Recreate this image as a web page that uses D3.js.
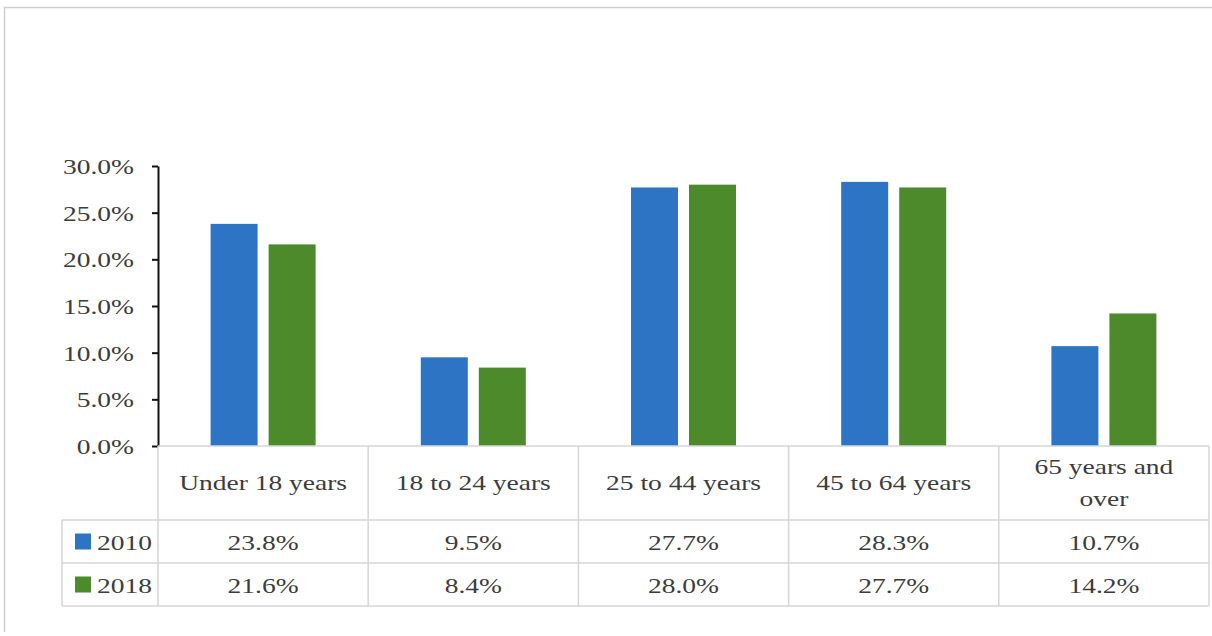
<!DOCTYPE html>
<html>
<head>
<meta charset="utf-8">
<script src="https://cdn.jsdelivr.net/npm/d3@7"></script>
<style>
  html, body { margin: 0; padding: 0; background: #fff; }
  svg { display: block; }
</style>
</head>
<body>
<svg id="chart" width="1212" height="636"></svg>
<script>
// Age groups and population shares for 2010 and 2018
const categories = ["Under 18 years", "18 to 24 years", "25 to 44 years", "45 to 64 years", "65 years and over"];
const categoryLines = [["Under 18 years"], ["18 to 24 years"], ["25 to 44 years"], ["45 to 64 years"], ["65 years and", "over"]];
const seriesNames = ["2010", "2018"];
const values2010 = [0.238, 0.095, 0.277, 0.283, 0.107];
const values2018 = [0.216, 0.084, 0.280, 0.277, 0.142];
const yTicks = [0, 0.05, 0.10, 0.15, 0.20, 0.25, 0.30];
const seriesColors = ["#2e74c4", "#4d8a2c"];

const seriesValues = [values2010, values2018];
const svg = d3.select("#chart");
const fontFamily = "Liberation Serif";
const fontSize = 22;
const textColor = "#3c3c3c";
const stretch = 1.25;   // widen the serif face horizontally

// frame
svg.append("path")
  .attr("d", "M4.5,632 V7.5 H1212")
  .attr("fill", "none").attr("stroke", "#cfcfcf").attr("stroke-width", 1.5);

const plotLeft = 158, plotRight = 1209, plotTop = 166, plotBottom = 446;

const x0 = d3.scaleBand().domain(categories).range([plotLeft, plotRight]).padding(0);
const groupW = 105;
const x1 = d3.scaleBand().domain(seriesNames)
  .range([(x0.bandwidth() - groupW) / 2, (x0.bandwidth() + groupW) / 2])
  .paddingInner(0.19).paddingOuter(0);
const y = d3.scaleLinear().domain([0, 0.30]).range([plotBottom, plotTop]);

// helper for horizontally stretched text
function stext(g, x, yy, str, anchor) {
  return g.append("text")
    .attr("transform", `translate(${x},${yy}) scale(${stretch},1)`)
    .attr("text-anchor", anchor || "middle")
    .attr("font-family", fontFamily)
    .attr("font-size", fontSize)
    .attr("fill", textColor)
    .text(str);
}

// bars
const groups = svg.append("g").selectAll("g")
  .data(categories).join("g")
  .attr("transform", d => `translate(${x0(d)},0)`);
groups.selectAll("rect")
  .data((d, i) => seriesNames.map((s, k) => ({ s, v: seriesValues[k][i], k })))
  .join("rect")
  .attr("x", d => x1(d.s))
  .attr("width", x1.bandwidth())
  .attr("y", d => y(d.v))
  .attr("height", d => y(0) - y(d.v))
  .attr("fill", d => seriesColors[d.k]);

// y axis
const yAxis = svg.append("g")
  .attr("transform", `translate(${plotLeft},0)`)
  .call(d3.axisLeft(y).tickValues(yTicks).tickFormat(d3.format(".1%")).tickSize(6).tickSizeOuter(0));
yAxis.select(".domain").attr("stroke", "#111").attr("stroke-width", 2);
yAxis.selectAll(".tick line").attr("stroke", "#111").attr("stroke-width", 2);
yAxis.selectAll(".tick text")
  .attr("font-family", fontFamily)
  .attr("font-size", fontSize)
  .attr("fill", textColor)
  .attr("x", -24 / stretch)
  .attr("dy", "0.34em")
  .attr("transform", `scale(${stretch},1)`);

// data table
const tableTop = plotBottom, headerBottom = 520, row1Bottom = 563, row2Bottom = 606;
const legendLeft = 62;
const grid = svg.append("g").attr("stroke", "#d6d6d6").attr("stroke-width", 1.5).attr("fill", "none");
grid.append("line").attr("x1", plotLeft).attr("x2", plotRight).attr("y1", tableTop).attr("y2", tableTop);
[headerBottom, row1Bottom, row2Bottom].forEach(yy =>
  grid.append("line").attr("x1", legendLeft).attr("x2", plotRight).attr("y1", yy).attr("y2", yy));
grid.append("line").attr("x1", legendLeft).attr("x2", legendLeft).attr("y1", headerBottom).attr("y2", row2Bottom);
categories.forEach(c =>
  grid.append("line").attr("x1", x0(c)).attr("x2", x0(c)).attr("y1", tableTop).attr("y2", row2Bottom));
grid.append("line").attr("x1", plotRight).attr("x2", plotRight).attr("y1", tableTop).attr("y2", row2Bottom);

// header labels
const tg = svg.append("g");
categories.forEach((c, i) => {
  const cx = x0(c) + x0.bandwidth() / 2;
  const lines = categoryLines[i];
  const mid = (tableTop + headerBottom) / 2;
  lines.forEach((ln, j) => {
    const yy = mid + (j - (lines.length - 1) / 2) * 32 + 7;
    stext(tg, cx, yy, ln);
  });
});

// value rows with legend keys
const rowTops = [headerBottom, row1Bottom];
seriesNames.forEach((s, k) => {
  const mid = (rowTops[k] + [row1Bottom, row2Bottom][k]) / 2;
  svg.append("rect")
    .attr("x", 75).attr("y", mid - 8).attr("width", 16).attr("height", 16)
    .attr("fill", seriesColors[k]);
  stext(tg, 97, mid + 8, s, "start");
  categories.forEach((c, i) => {
    const cx = x0(c) + x0.bandwidth() / 2;
    stext(tg, cx, mid + 8, d3.format(".1%")(seriesValues[k][i]));
  });
});
</script>
</body>
</html>
